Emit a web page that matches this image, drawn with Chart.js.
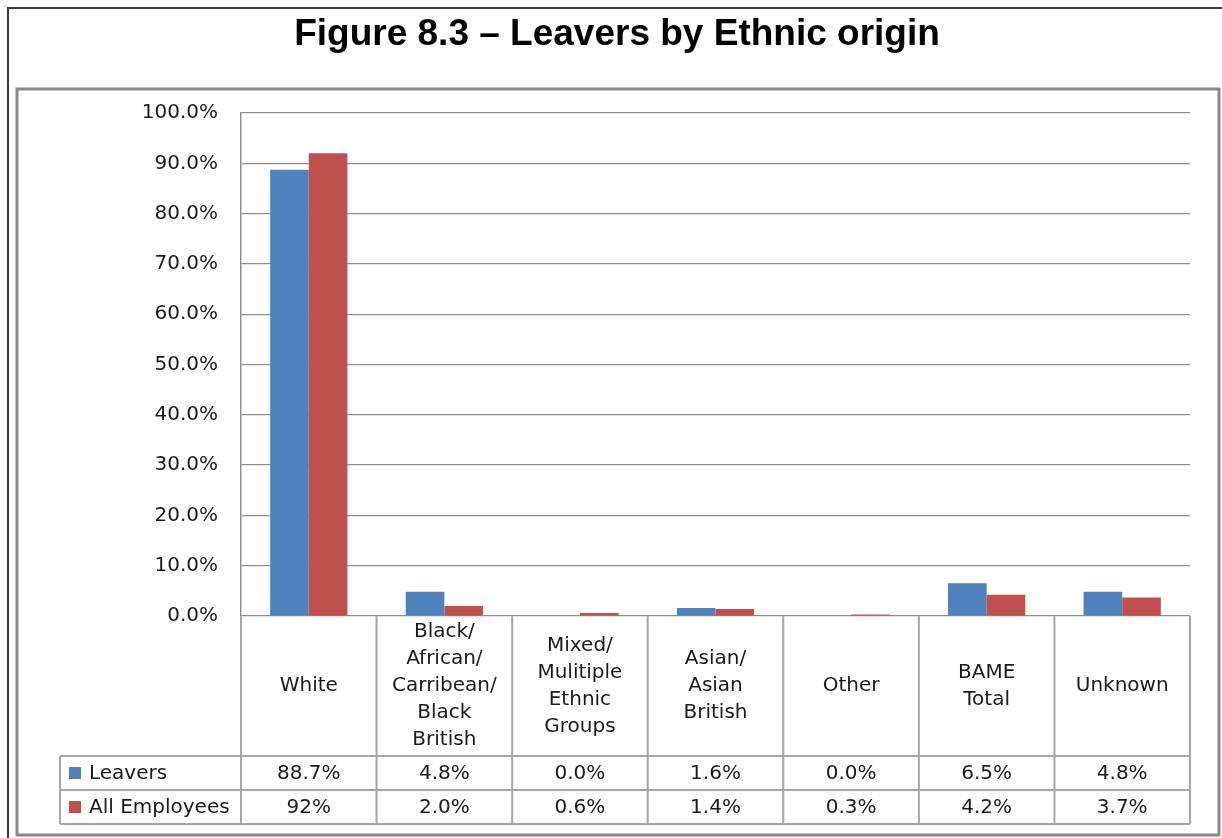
<!DOCTYPE html>
<html>
<head>
<meta charset="utf-8">
<script src="https://cdn.jsdelivr.net/npm/chart.js@4.4.0/dist/chart.umd.min.js"></script>
<style>
    html, body { margin: 0; padding: 0; background: #fff; }
    #wrap { position: relative; width: 1222px; height: 838px; }
</style>
</head>
<body>
<div id="wrap"><canvas id="leaversChart"></canvas></div>
<script>
// categories as they appear in the table header (one entry per line)
const categories = [
    ["White"],
    ["Black/", "African/", "Carribean/", "Black", "British"],
    ["Mixed/", "Mulitiple", "Ethnic", "Groups"],
    ["Asian/", "Asian", "British"],
    ["Other"],
    ["BAME", "Total"],
    ["Unknown"],
];
const leavers = [88.7, 4.8, 0.0, 1.6, 0.0, 6.5, 4.8];
const allEmployees = [92, 2.0, 0.6, 1.4, 0.3, 4.2, 3.7];
// decimals shown in the data table for each series
const leaversDecimals = [1, 1, 1, 1, 1, 1, 1];
const allEmployeesDecimals = [0, 1, 1, 1, 1, 1, 1];
const yTicks = [0, 10, 20, 30, 40, 50, 60, 70, 80, 90, 100];

const BLUE = "#4F81BD";
const RED = "#C0504D";
const GRID = "#8e8e8e";
const TABLE_LINE = "#a6a6a6";
const TEXT = "#1a1a1a";
const FONT = "20px 'DejaVu Sans', sans-serif";

// frames + title
const framePlugin = {
    id: "frame",
    beforeDraw(chart) {
        const c = chart.ctx;
        c.save();
        c.fillStyle = "#fff";
        c.fillRect(0, 0, chart.width, chart.height);
        c.strokeStyle = "#3a3a3a";
        c.lineWidth = 2;
        c.beginPath();
        c.moveTo(8, chart.height);
        c.lineTo(8, 8);
        c.lineTo(chart.width, 8);
        c.stroke();
        c.strokeStyle = "#8a8a8a";
        c.lineWidth = 3;
        c.strokeRect(17, 89, 1202, 746);
        c.fillStyle = "#000";
        c.font = "bold 37px 'Liberation Sans', Arial, sans-serif";
        c.textAlign = "center";
        c.textBaseline = "middle";
        c.fillText("Figure 8.3 \u2013 Leavers by Ethnic origin", 617, 35);
        c.restore();
    },
};

// data table under the plot, columns follow the x scale
const tablePlugin = {
    id: "dataTable",
    afterDraw(chart) {
        const c = chart.ctx;
        const x = chart.scales.x;
        const area = chart.chartArea;
        const colW = (area.right - area.left) / categories.length;
        const top = area.bottom;
        const headBottom = top + 140;
        const row1 = headBottom + 34;
        const row2 = row1 + 34;
        const tableLeft = 60;

        c.save();
        c.strokeStyle = TABLE_LINE;
        c.lineWidth = 2;
        c.beginPath();
        // vertical column lines
        for (let i = 0; i <= categories.length; i++) {
            const lx = area.left + i * colW;
            c.moveTo(lx, top);
            c.lineTo(lx, row2);
        }
        c.moveTo(tableLeft, headBottom);
        c.lineTo(tableLeft, row2);
        [headBottom, row1, row2].forEach((ly) => {
            c.moveTo(tableLeft, ly);
            c.lineTo(area.right, ly);
        });
        c.stroke();

        c.fillStyle = TEXT;
        c.font = FONT;
        c.textAlign = "center";
        c.textBaseline = "middle";
        const lineH = 27;
        const headMid = (top + headBottom) / 2;
        categories.forEach((lines, i) => {
            const cx = x.getPixelForValue(i);
            const y0 = headMid - ((lines.length - 1) * lineH) / 2;
            lines.forEach((t, j) => c.fillText(t, cx, y0 + j * lineH));
            c.fillText(leavers[i].toFixed(leaversDecimals[i]) + "%", cx, (headBottom + row1) / 2 + 1);
            c.fillText(allEmployees[i].toFixed(allEmployeesDecimals[i]) + "%", cx, (row1 + row2) / 2 + 1);
        });

        // series keys
        chart.data.datasets.forEach((ds, k) => {
            const my = k === 0 ? (headBottom + row1) / 2 : (row1 + row2) / 2;
            c.fillStyle = ds.backgroundColor;
            c.fillRect(69, my - 6, 12, 12);
            c.fillStyle = TEXT;
            c.textAlign = "left";
            c.fillText(ds.label, 89, my + 1);
        });
        c.restore();
    },
};

new Chart(document.getElementById("leaversChart"), {
    type: "bar",
    data: {
        labels: categories.map((l) => l.join(" ")),
        datasets: [
            {
                label: "Leavers",
                data: leavers,
                backgroundColor: BLUE,
                categoryPercentage: 0.57,
                barPercentage: 1.0,
            },
            {
                label: "All Employees",
                data: allEmployees,
                backgroundColor: RED,
                categoryPercentage: 0.57,
                barPercentage: 1.0,
            },
        ],
    },
    options: {
        responsive: true,
        maintainAspectRatio: false,
        animation: false,
        layout: {
            padding: { left: 0, right: 32, top: 113, bottom: 222 },
        },
        scales: {
            x: {
                display: false,
            },
            y: {
                min: 0,
                max: 100,
                afterFit(scale) {
                    scale.width = 241;
                },
                afterBuildTicks(scale) {
                    scale.ticks = yTicks.map((v) => ({ value: v }));
                },
                border: { color: GRID, width: 1.5 },
                grid: {
                    color: GRID,
                    lineWidth: 1.2,
                    drawTicks: false,
                },
                ticks: {
                    color: TEXT,
                    padding: 23,
                    font: { family: "'DejaVu Sans', sans-serif", size: 20 },
                    callback: (v) => v.toFixed(1) + "%",
                },
            },
        },
        plugins: {
            legend: { display: false },
            title: { display: false },
            tooltip: { enabled: false },
        },
    },
    plugins: [framePlugin, tablePlugin],
});
</script>
</body>
</html>
